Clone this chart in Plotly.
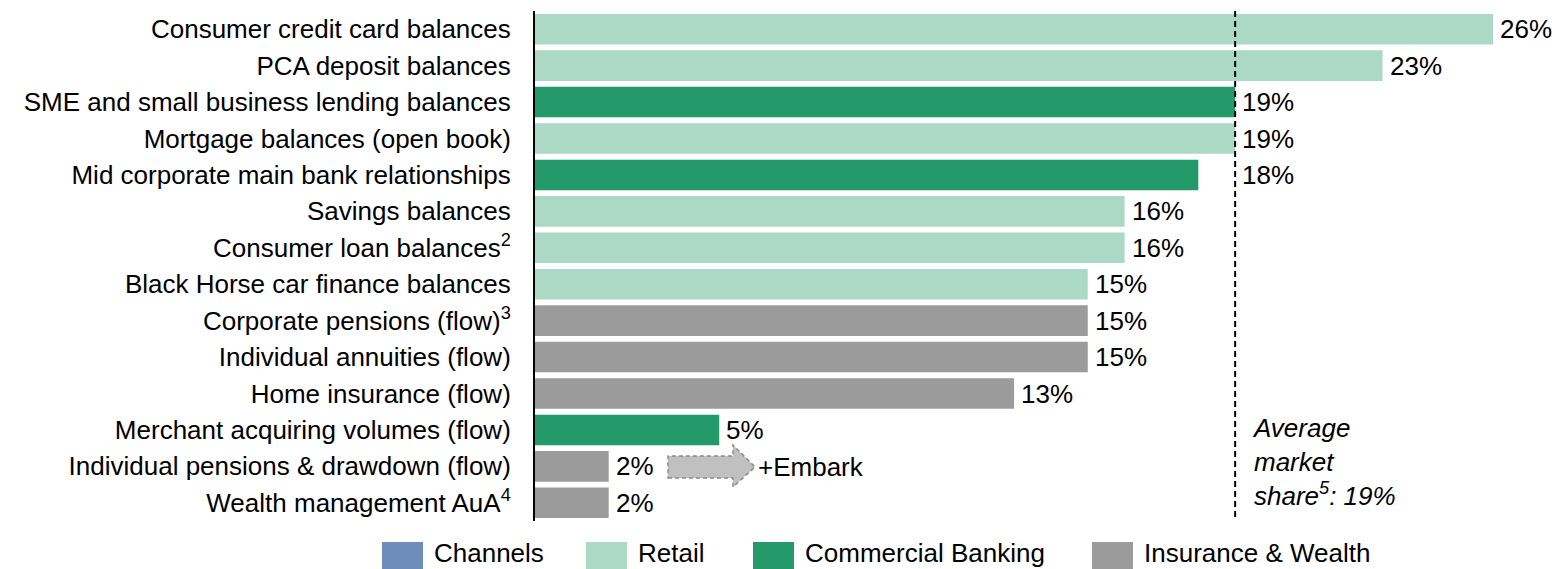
import plotly.graph_objects as go

# ---- data ----
categories = [
    "Consumer credit card balances",
    "PCA deposit balances",
    "SME and small business lending balances",
    "Mortgage balances (open book)",
    "Mid corporate main bank relationships",
    "Savings balances",
    "Consumer loan balances<sup>2</sup>",
    "Black Horse car finance balances",
    "Corporate pensions (flow)<sup>3</sup>",
    "Individual annuities (flow)",
    "Home insurance (flow)",
    "Merchant acquiring volumes (flow)",
    "Individual pensions & drawdown (flow)",
    "Wealth management AuA<sup>4</sup>",
]
shares = [26, 23, 19, 19, 18, 16, 16, 15, 15, 15, 13, 5, 2, 2]
segments = ["Retail", "Retail", "Commercial Banking", "Retail", "Commercial Banking",
            "Retail", "Retail", "Retail", "Insurance & Wealth", "Insurance & Wealth",
            "Insurance & Wealth", "Commercial Banking", "Insurance & Wealth", "Insurance & Wealth"]
legend_items = ["Channels", "Retail", "Commercial Banking", "Insurance & Wealth"]
average_share = 19

# ---- style ----
seg_colors = {
    "Channels": "#6e8dba",
    "Retail": "#acd9c6",
    "Commercial Banking": "#24996a",
    "Insurance & Wealth": "#9b9b9b",
}
FONT = "Liberation Sans, Arial, sans-serif"
FS = 26
W, H = 1556, 569
ML, MR, MT, MB = 535, 8, 11, 48
XMAX = 27.49
plot_w = W - ML - MR
plot_h = H - MT - MB


def px_x(px):  # pixel -> paper x
    return (px - ML) / plot_w


def px_y(py):  # pixel -> paper y
    return (H - MB - py) / plot_h


def px_data_x(px):
    return (px - ML) / plot_w * XMAX


fig = go.Figure()
fig.add_trace(go.Bar(
    x=shares,
    y=categories,
    orientation="h",
    marker=dict(color=[seg_colors[s] for s in segments], line=dict(width=0)),
    showlegend=False,
    hoverinfo="x+y",
))

annotations = []
# value labels (labels just short of the average line are set after it)
for i, v in enumerate(shares):
    lx = average_share if average_share - 1.5 < v < average_share else v
    annotations.append(dict(
        x=lx, y=i, xref="x", yref="y", text=f"{v}%", showarrow=False,
        xanchor="left", yanchor="middle", xshift=5,
        font=dict(family=FONT, size=FS, color="#000000"),
    ))

shapes = []
# average line
shapes.append(dict(
    type="line", xref="x", yref="paper", x0=average_share, x1=average_share,
    y0=px_y(517), y1=px_y(7),
    line=dict(color="#000000", width=2, dash="6px,4px"),
))
annotations.append(dict(
    x=px_x(1250), y=px_y(462), xref="paper", yref="paper",
    text=f"<i>Average<br>market<br>share<sup>5</sup>: {average_share}%</i>",
    showarrow=False, xanchor="left", yanchor="middle", align="left",
    font=dict(family=FONT, size=FS, color="#000000"),
))

# +Embark arrow
ax0, axh, ax1 = px_data_x(668), px_data_x(733), px_data_x(755)
yb0, yb1, yh0, yh1, ym = px_y(478), px_y(456), px_y(487), px_y(445), px_y(467)
path = (f"M {ax0},{yb0} L {axh},{yb0} L {axh},{yh0} L {ax1},{ym} "
        f"L {axh},{yh1} L {axh},{yb1} L {ax0},{yb1} Z")
shapes.append(dict(
    type="path", xref="x", yref="paper", path=path,
    fillcolor="#c0c0c0", line=dict(color="#8a8a8a", width=1.5, dash="4px,3px"),
))
annotations.append(dict(
    x=px_x(756), y=ym, xref="paper", yref="paper", text="+Embark",
    showarrow=False, xanchor="left", yanchor="middle",
    font=dict(family=FONT, size=FS, color="#000000"),
))

# manual legend
leg_sq = [382, 586, 753, 1092]
for name, sx in zip(legend_items, leg_sq):
    shapes.append(dict(
        type="rect", xref="paper", yref="paper",
        x0=px_x(sx), x1=px_x(sx + 41), y0=px_y(583), y1=px_y(542),
        fillcolor=seg_colors[name], line=dict(width=0),
    ))
    annotations.append(dict(
        x=px_x(sx + 50), y=px_y(553), xref="paper", yref="paper", text=name,
        showarrow=False, xanchor="left", yanchor="middle",
        font=dict(family=FONT, size=FS, color="#000000"),
    ))

fig.update_layout(
    width=W, height=H,
    margin=dict(l=ML, r=MR, t=MT, b=MB, pad=0),
    paper_bgcolor="#ffffff", plot_bgcolor="#ffffff",
    bargap=0.16,
    font=dict(family=FONT, size=FS, color="#000000"),
    shapes=shapes, annotations=annotations,
    xaxis=dict(range=[0, XMAX], visible=False, fixedrange=True),
    yaxis=dict(
        type="category", categoryorder="array", categoryarray=categories,
        range=[13.5, -0.5], showline=True, linecolor="#000000", linewidth=2,
        ticks="", showgrid=False, zeroline=False, ticklabelstandoff=17,
        tickfont=dict(family=FONT, size=FS, color="#000000"), fixedrange=True,
    ),
)

fig.write_html("out.html")
